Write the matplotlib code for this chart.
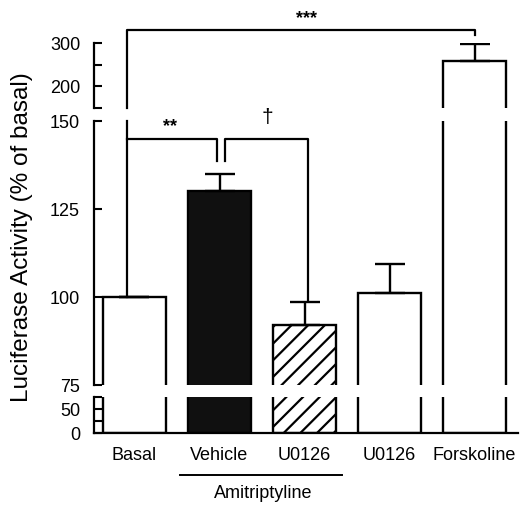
import numpy as np
import matplotlib
matplotlib.use('Agg')
import matplotlib.pyplot as plt

plt.rcParams['font.family'] = ['Liberation Sans', 'DejaVu Sans']
plt.rcParams['hatch.linewidth'] = 1.6

# data (% of basal)
groups = ['Basal', 'Vehicle', 'U0126', 'U0126', 'Forskoline']
values = [100, 130, 92, 101, 258]
errors = [0, 5, 6.5, 8.5, 40]
faces = ['white', '#101010', 'white', 'white', 'white']
hatches = [None, None, '//', None, None]

# segments of the broken y axis: (low, high, ticks, labels)
seg_top = (150, 300, [150, 200, 250, 300], ['', '200', '', '300'])
seg_mid = (75, 150, [75, 100, 125, 150], ['75', '100', '125', '150'])
seg_bot = (0, 75, [0, 25, 50, 75], ['0', '', '50', ''])

W, H = 520, 505
fig = plt.figure(figsize=(W / 100, H / 100), dpi=100)

def px_axes(top_px, bot_px):
    left, right = 94, 518
    return fig.add_axes([left / W, 1 - bot_px / H, (right - left) / W, (bot_px - top_px) / H])

ax_top = px_axes(43, 108)
ax_mid = px_axes(121, 385)
ax_bot = px_axes(397, 433)

x = np.arange(len(groups))
lw = 1.7
for ax, seg in [(ax_top, seg_top), (ax_mid, seg_mid), (ax_bot, seg_bot)]:
    ax.bar(x, values, width=0.74, color=faces, edgecolor='black', linewidth=lw,
           hatch=hatches, zorder=2)
    ax.errorbar(x, values, yerr=[np.zeros(len(errors)), errors], fmt='none',
                ecolor='black', elinewidth=lw, capsize=11, capthick=lw, zorder=3)
    ax.set_ylim(seg[0], seg[1])
    ax.set_xlim(-0.476, 4.51)
    ax.set_yticks(seg[2])
    ax.set_yticklabels(seg[3])
    ax.tick_params(axis='y', direction='in', length=6, width=1.5, pad=10, labelsize=13)
    for s in ['top', 'right', 'bottom']:
        ax.spines[s].set_visible(False)
    ax.spines['left'].set_linewidth(1.6)
    ax.set_xticks([])

ax_bot.spines['bottom'].set_visible(True)
ax_bot.spines['bottom'].set_linewidth(1.6)
ax_bot.set_xticks(x)
ax_bot.set_xticklabels(groups, fontsize=13)
ax_bot.tick_params(axis='x', length=0, pad=10)

# significance brackets
bx = -0.088
kw = dict(color='black', lw=1.6, clip_on=False, zorder=4)
ax_mid.plot([bx, bx], [100, 150], **kw)
ax_top.plot([bx, bx, 4.0, 4.0], [150, 330, 330, 318], **kw)
ax_top.text(2.02, 357, '***', ha='center', va='center', fontsize=13, fontweight='bold')

ax_mid.plot([bx, 0.97, 0.97], [145, 145, 138.5], **kw)
ax_mid.text(0.42, 148.5, '**', ha='center', va='center', fontsize=13, fontweight='bold')

ax_mid.plot([1.065, 1.065, 2.04, 2.04], [138.5, 145, 145, 99], **kw)
ax_mid.text(1.56, 151, '\u2020', ha='center', va='center', fontsize=15)

# Amitriptyline group line
tr = ax_bot.get_xaxis_transform()
ax_bot.plot([0.535, 2.44], [-1.17, -1.17], transform=tr, color='black', lw=1.4, clip_on=False)
ax_bot.text(1.51, -1.68, 'Amitriptyline', transform=tr, ha='center', va='center', fontsize=13)

fig.text(22 / W, 1 - 237 / H, 'Luciferase Activity (% of basal)', rotation=90,
         ha='center', va='center', fontsize=17.5)

fig.savefig('out.png', dpi=100)
